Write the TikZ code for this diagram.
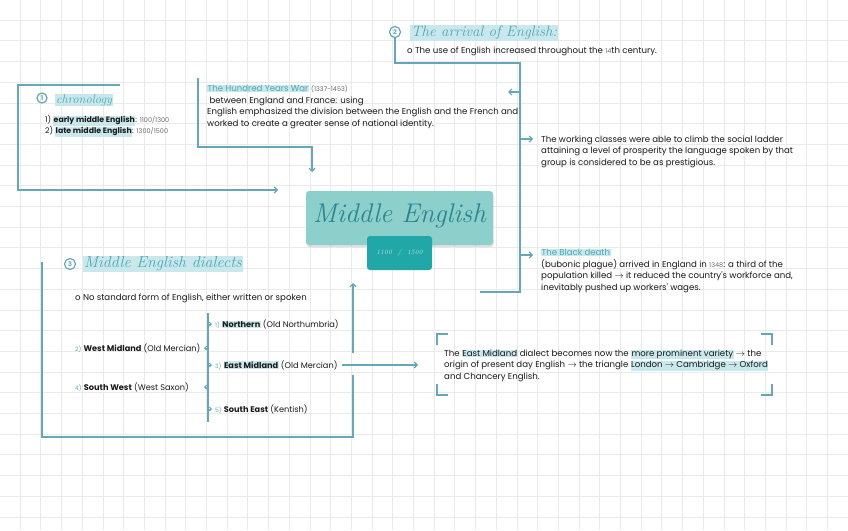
\documentclass[tikz,border=0pt]{standalone}
\usepackage{fontspec}
\newfontfamily\body{Poppins}
\usetikzlibrary{arrows.meta,shadows}
\definecolor{gridc}{HTML}{EAEAEA}
\definecolor{linec}{HTML}{65A7B6}
\definecolor{hlc}{HTML}{C9E8EC}
\definecolor{titlec}{HTML}{4FA6B8}
\definecolor{boxc}{HTML}{8CCFCB}
\definecolor{box2c}{HTML}{22A7A8}
\definecolor{bigc}{HTML}{2C8591}
\definecolor{ink}{HTML}{1A1A1A}
\definecolor{soft}{HTML}{6E6E6E}
\newcommand\hl[1]{{\setlength\fboxsep{0.4pt}\colorbox{hlc}{#1}}}
\newcommand\nm[1]{{\color{linec}\fontsize{6}{6}\selectfont #1}}
\newcommand\sm[1]{{\color{soft}\fontsize{6.5}{6.5}\selectfont #1}}
\tikzset{
  gridline/.style={gridc, line width=1pt},
  conn/.style={linec, line width=1.4pt},
  tip/.style={conn, -{Straight Barb[length=3pt,width=6pt,line width=1.2pt]}},
  smalltip/.style={linec, line width=0.9pt, -{Straight Barb[length=2pt,width=4pt,line width=0.9pt]}},
  txt/.style={anchor=north west, align=left, inner sep=0, font=\body\fontsize{8.6}{11.5}\selectfont, text=ink},
  lab/.style={anchor=west, inner sep=0, font=\body\fontsize{8.2}{9}\selectfont, text=ink},
  numc/.style={circle, draw=linec, line width=1.2pt, minimum size=11pt, inner sep=0, font=\body\bfseries\fontsize{6.5}{6.5}\selectfont, text=linec},
  cursive/.style={anchor=west, inner sep=0.8pt, fill=hlc, font=\itshape\fontsize{15}{15}\selectfont, text=titlec},
}
\begin{document}
\begin{tikzpicture}[x=1pt,y=-1pt]
\useasboundingbox (0,0) rectangle (848,530);
\fill[white] (0,0) rectangle (848,530);
\foreach \i in {1,...,41} \draw[gridline] ({20.7*\i-0.5},0) -- ({20.7*\i-0.5},530);
\foreach \i in {1,...,25} \draw[gridline] (0,{20.7*\i-0.5}) -- (848,{20.7*\i-0.5});

% ---------- The arrival of English
\node[numc] (n2) at (395,32) {2};
\node[cursive] (arrT) at (410,33) {The arrival of English:};
\node[txt] (arrB) at (407,46.3) {o The use of English increased throughout the \sm{14}th century.};

% ---------- chronology
\node[numc, minimum size=10pt] (n1) at (42,98) {1};
\node[cursive, font=\itshape\fontsize{12.5}{12.5}\selectfont] (chrT) at (55,100) {chronology};
\node[txt, font=\body\fontsize{7.8}{11}\selectfont] (chrB) at (45,115.5) {1) \hl{\bfseries early middle English}: \sm{1100/1300}\\2) \hl{\bfseries late middle English}: \sm{1300/1500}};

% ---------- Hundred Years War
\node[txt] (hyw) at (207,85) {\hl{\color{titlec}The Hundred Years War} \sm{(1337-1453)}\\\ between England and France: using\\English emphasized the division between the English and the French and\\worked to create a greater sense of national identity.};

% ---------- working classes
\node[txt] (work) at (541,135.3) {The working classes were able to climb the social ladder\\attaining a level of prosperity the language spoken by that\\group is considered to be as prestigious.};

% ---------- Black death
\node[txt] (black) at (541,249) {\hl{\color{titlec}The Black death}\\(bubonic plague) arrived in England in \sm{1348}: a third of the\\population killed $\rightarrow$ it reduced the country's workforce and,\\inevitably pushed up workers' wages.};

% ---------- Middle English
\node[fill=boxc, rounded corners=3pt, minimum width=187pt, minimum height=54pt, inner sep=0,
      drop shadow={shadow xshift=0.5pt, shadow yshift=-2pt, opacity=0.25}] (me) at (399.5,218) {};
\node[font=\itshape\fontsize{27}{27}\selectfont, text=bigc] (meT) at (399.5,216) {Middle English};
\node[fill=box2c, rounded corners=3pt, minimum width=65pt, minimum height=34pt, inner sep=0,
      font=\itshape\fontsize{6.5}{6.5}\selectfont, text=boxc!60!white] (date) at (399.5,253) {1100 \ / \ 1500};

% ---------- dialects
\node[numc] (n3) at (70,264) {3};
\node[cursive, font=\itshape\fontsize{16}{16}\selectfont] (dialT) at (83,264) {Middle English dialects};
\node[txt] (nostd) at (75,293.3) {o No standard form of English, either written or spoken};
\node[lab] (north) at (215,324) {\nm{1)} \hl{\bfseries Northern} (Old Northumbria)};
\node[lab] (wmid) at (75,348) {\nm{2)} \textbf{West Midland} (Old Mercian)};
\node[lab] (emid) at (215,365) {\nm{3)} \hl{\bfseries East Midland} (Old Mercian)};
\node[lab] (swest) at (75,387) {\nm{4)} \textbf{South West} (West Saxon)};
\node[lab] (seast) at (215,409) {\nm{5)} \textbf{South East} (Kentish)};

% ---------- East Midland note
\node[txt] (emtxt) at (444,349.3) {The \hl{East Midland} dialect becomes now the \hl{more prominent variety} $\rightarrow$ the\\origin of present day English $\rightarrow$ the triangle \hl{London $\rightarrow$ Cambridge $\rightarrow$ Oxford}\\and Chancery English.};

% ---------- coordinates
\coordinate (a2) at (520,63);
\coordinate (a3) at (520,292);
\coordinate (a4) at (480,292);
\coordinate (b1) at (520,92);  \coordinate (b1e) at (508,92);
\coordinate (b2) at (520,139); \coordinate (b2e) at (533,139);
\coordinate (b3) at (520,255); \coordinate (b3e) at (533,255);
\coordinate (c0) at (120,85); \coordinate (c1) at (18,85); \coordinate (c2) at (18,190); \coordinate (c3) at (278,190);
\coordinate (h0) at (198,78); \coordinate (h1) at (198,147); \coordinate (h2) at (312,147); \coordinate (h3) at (312,172);
\coordinate (d0) at (42,262); \coordinate (d1) at (42,437); \coordinate (d2) at (353,437); \coordinate (d3) at (353,375);
\coordinate (d4) at (353,353); \coordinate (d5) at (353,283);
\coordinate (m0) at (208,313); \coordinate (m1) at (208,422);
\coordinate (e0) at (342,365); \coordinate (e1) at (418,365);

% ---------- connectors
\draw[conn] (n2.south) |- (a2) -- (a3) -- (a4);
\draw[tip] (b1) -- (b1e);
\draw[tip] (b2) -- (b2e);
\draw[tip] (b3) -- (b3e);
\draw[tip] (c0) -- (c1) -- (c2) -- (c3);
\draw[tip] (h0) -- (h1) -- (h2) -- (h3);
\draw[conn] (d0) -- (d1) -- (d2) -- (d3);
\draw[tip] (d4) -- (d5);
\draw[conn] (m0) -- (m1);
\draw[smalltip] (m0 |- north) -- ++(4,0);
\draw[smalltip] (m0 |- wmid) -- ++(-4,0);
\draw[smalltip] (m0 |- emid) -- ++(4,0);
\draw[smalltip] (m0 |- swest) -- ++(-4,0);
\draw[smalltip] (m0 |- seast) -- ++(4,0);
\draw[tip, line width=1.1pt] (e0) -- (e1);

% ---------- bracket box
\draw[conn] (437,345) -- (437,334) -- (448,334);
\draw[conn] (761,334) -- (772,334) -- (772,345);
\draw[conn] (437,384) -- (437,395) -- (448,395);
\draw[conn] (761,395) -- (772,395) -- (772,384);
\end{tikzpicture}
\end{document}
